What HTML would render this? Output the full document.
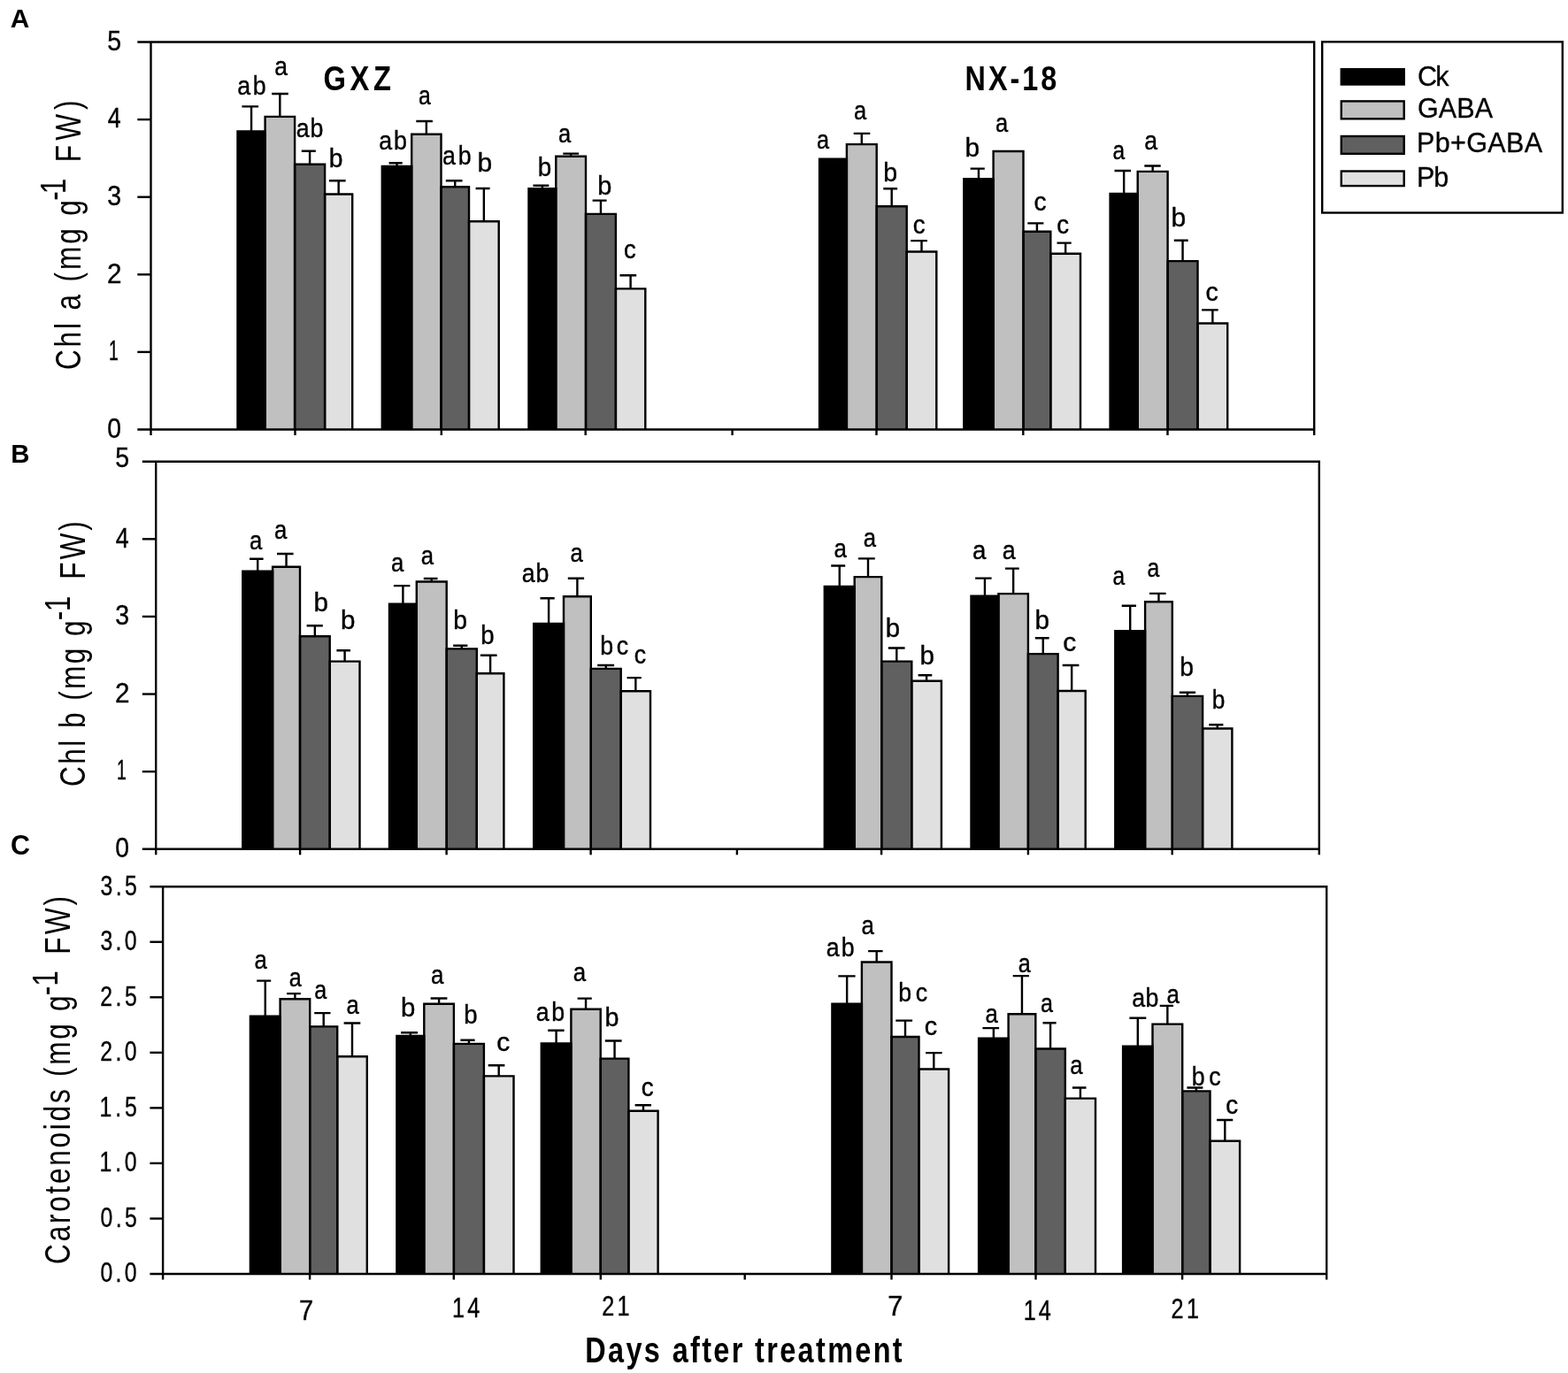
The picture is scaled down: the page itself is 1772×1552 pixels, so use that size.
<!DOCTYPE html>
<html><head><meta charset="utf-8"><title>Chlorophyll and carotenoid content</title>
<style>
html,body{margin:0;padding:0;background:#fff;overflow:hidden;}
svg{display:block;}
text{font-family:"Liberation Sans",Arial,sans-serif;fill:#000;font-kerning:none;}
.s{stroke:#000;stroke-width:2.40;stroke-linecap:butt;}
path{fill:none;}
</style></head><body>
<svg width="1772" height="1552" viewBox="0 0 1772 1552">
<rect width="1772" height="1552" fill="#fff"/>
<rect x="268.50" y="148.50" width="31.10" height="337.00" fill="#000000"/>
<rect x="299.60" y="131.90" width="33.50" height="353.60" fill="#c0c0c0"/>
<rect x="333.10" y="185.70" width="34.00" height="299.80" fill="#606060"/>
<rect x="367.10" y="219.50" width="31.10" height="266.00" fill="#e0e0e0"/>
<path d="M268.50 485.50V148.50H299.60V485.50" class="s"/>
<path d="M284.05 148.50V120.40M273.40 120.40H292.10" class="s"/>
<path d="M299.60 485.50V131.90H333.10V485.50" class="s"/>
<path d="M316.35 131.90V106.00M307.20 106.00H325.80" class="s"/>
<path d="M333.10 485.50V185.70H367.10V485.50" class="s"/>
<path d="M350.10 185.70V170.70M340.80 170.70H356.80" class="s"/>
<path d="M367.10 485.50V219.50H398.20V485.50" class="s"/>
<path d="M382.65 219.50V204.30M371.90 204.30H390.60" class="s"/>
<rect x="431.80" y="188.00" width="33.40" height="297.50" fill="#000000"/>
<rect x="465.20" y="151.80" width="33.30" height="333.70" fill="#c0c0c0"/>
<rect x="498.50" y="211.20" width="31.50" height="274.30" fill="#606060"/>
<rect x="530.00" y="250.20" width="33.70" height="235.30" fill="#e0e0e0"/>
<path d="M431.80 485.50V188.00H465.20V485.50" class="s"/>
<path d="M448.50 188.00V184.20M439.60 184.20H454.70" class="s"/>
<path d="M465.20 485.50V151.80H498.50V485.50" class="s"/>
<path d="M481.85 151.80V137.00M470.30 137.00H488.90" class="s"/>
<path d="M498.50 485.50V211.20H530.00V485.50" class="s"/>
<path d="M514.25 211.20V204.30M503.80 204.30H522.50" class="s"/>
<path d="M530.00 485.50V250.20H563.70V485.50" class="s"/>
<path d="M546.85 250.20V213.00M537.60 213.00H553.60" class="s"/>
<rect x="597.50" y="213.30" width="30.80" height="272.20" fill="#000000"/>
<rect x="628.30" y="176.80" width="33.70" height="308.70" fill="#c0c0c0"/>
<rect x="662.00" y="241.90" width="33.90" height="243.60" fill="#606060"/>
<rect x="695.90" y="326.40" width="33.40" height="159.10" fill="#e0e0e0"/>
<path d="M597.50 485.50V213.30H628.30V485.50" class="s"/>
<path d="M612.90 213.30V209.80M602.50 209.80H620.30" class="s"/>
<path d="M628.30 485.50V176.80H662.00V485.50" class="s"/>
<path d="M645.15 176.80V173.60M636.30 173.60H654.10" class="s"/>
<path d="M662.00 485.50V241.90H695.90V485.50" class="s"/>
<path d="M678.95 241.90V226.60M669.60 226.60H685.60" class="s"/>
<path d="M695.90 485.50V326.40H729.30V485.50" class="s"/>
<path d="M712.60 326.40V311.30M700.50 311.30H719.20" class="s"/>
<rect x="926.10" y="179.70" width="30.80" height="305.80" fill="#000000"/>
<rect x="956.90" y="163.10" width="33.80" height="322.40" fill="#c0c0c0"/>
<rect x="990.70" y="233.30" width="34.00" height="252.20" fill="#606060"/>
<rect x="1024.70" y="284.50" width="33.60" height="201.00" fill="#e0e0e0"/>
<path d="M926.10 485.50V179.70H956.90V485.50" class="s"/>
<path d="M956.90 485.50V163.10H990.70V485.50" class="s"/>
<path d="M973.80 163.10V150.90M964.70 150.90H983.30" class="s"/>
<path d="M990.70 485.50V233.30H1024.70V485.50" class="s"/>
<path d="M1007.70 233.30V213.30M998.30 213.30H1014.10" class="s"/>
<path d="M1024.70 485.50V284.50H1058.30V485.50" class="s"/>
<path d="M1041.50 284.50V272.10M1029.20 272.10H1047.90" class="s"/>
<rect x="1089.30" y="202.30" width="33.30" height="283.20" fill="#000000"/>
<rect x="1122.60" y="171.00" width="33.90" height="314.50" fill="#c0c0c0"/>
<rect x="1156.50" y="261.70" width="30.80" height="223.80" fill="#606060"/>
<rect x="1187.30" y="286.80" width="33.70" height="198.70" fill="#e0e0e0"/>
<path d="M1089.30 485.50V202.30H1122.60V485.50" class="s"/>
<path d="M1105.95 202.30V190.60M1096.60 190.60H1112.80" class="s"/>
<path d="M1122.60 485.50V171.00H1156.50V485.50" class="s"/>
<path d="M1156.50 485.50V261.70H1187.30V485.50" class="s"/>
<path d="M1171.90 261.70V252.40M1161.30 252.40H1179.40" class="s"/>
<path d="M1187.30 485.50V286.80H1221.00V485.50" class="s"/>
<path d="M1204.15 286.80V274.60M1194.50 274.60H1210.70" class="s"/>
<rect x="1254.60" y="218.90" width="31.10" height="266.60" fill="#000000"/>
<rect x="1285.70" y="193.90" width="33.90" height="291.60" fill="#c0c0c0"/>
<rect x="1319.60" y="295.10" width="33.90" height="190.40" fill="#606060"/>
<rect x="1353.50" y="365.50" width="33.70" height="120.00" fill="#e0e0e0"/>
<path d="M1254.60 485.50V218.90H1285.70V485.50" class="s"/>
<path d="M1270.15 218.90V193.00M1259.50 193.00H1278.00" class="s"/>
<path d="M1285.70 485.50V193.90H1319.60V485.50" class="s"/>
<path d="M1302.65 193.90V187.50M1293.30 187.50H1311.70" class="s"/>
<path d="M1319.60 485.50V295.10H1353.50V485.50" class="s"/>
<path d="M1336.55 295.10V271.80M1326.80 271.80H1342.70" class="s"/>
<path d="M1353.50 485.50V365.50H1387.20V485.50" class="s"/>
<path d="M1370.35 365.50V350.40M1358.10 350.40H1376.70" class="s"/>
<path d="M155.30 47.50H1485.20V492.00" class="s"/>
<path d="M170.50 47.50V492.00" class="s"/>
<path d="M155.30 485.50H1485.20" class="s"/>
<path d="M155.30 135.10H170.50" class="s"/>
<path d="M155.30 222.70H170.50" class="s"/>
<path d="M155.30 310.30H170.50" class="s"/>
<path d="M155.30 397.90H170.50" class="s"/>
<path d="M333.50 485.50V492.00" class="s"/>
<path d="M498.80 485.50V492.00" class="s"/>
<path d="M661.70 485.50V492.00" class="s"/>
<path d="M827.60 485.50V492.00" class="s"/>
<path d="M990.50 485.50V492.00" class="s"/>
<path d="M1156.30 485.50V492.00" class="s"/>
<path d="M1319.50 485.50V492.00" class="s"/>
<rect x="274.30" y="645.80" width="33.80" height="314.00" fill="#000000"/>
<rect x="308.10" y="640.70" width="30.90" height="319.10" fill="#c0c0c0"/>
<rect x="339.00" y="719.30" width="33.70" height="240.50" fill="#606060"/>
<rect x="372.70" y="747.60" width="33.80" height="212.20" fill="#e0e0e0"/>
<path d="M274.30 959.80V645.80H308.10V959.80" class="s"/>
<path d="M291.20 645.80V631.80M282.00 631.80H297.60" class="s"/>
<path d="M308.10 959.80V640.70H339.00V959.80" class="s"/>
<path d="M323.55 640.70V626.00M313.00 626.00H331.60" class="s"/>
<path d="M339.00 959.80V719.30H372.70V959.80" class="s"/>
<path d="M355.85 719.30V707.20M346.60 707.20H364.80" class="s"/>
<path d="M372.70 959.80V747.60H406.50V959.80" class="s"/>
<path d="M389.60 747.60V735.20M380.40 735.20H396.00" class="s"/>
<rect x="440.00" y="682.60" width="30.80" height="277.20" fill="#000000"/>
<rect x="470.80" y="657.50" width="33.90" height="302.30" fill="#c0c0c0"/>
<rect x="504.70" y="733.40" width="34.10" height="226.40" fill="#606060"/>
<rect x="538.80" y="761.20" width="30.60" height="198.60" fill="#e0e0e0"/>
<path d="M440.00 959.80V682.60H470.80V959.80" class="s"/>
<path d="M455.40 682.60V662.10M444.90 662.10H463.40" class="s"/>
<path d="M470.80 959.80V657.50H504.70V959.80" class="s"/>
<path d="M487.75 657.50V654.00M478.80 654.00H494.50" class="s"/>
<path d="M504.70 959.80V733.40H538.80V959.80" class="s"/>
<path d="M521.75 733.40V729.80M512.20 729.80H528.40" class="s"/>
<path d="M538.80 959.80V761.20H569.40V959.80" class="s"/>
<path d="M554.10 761.20V740.70M542.90 740.70H561.60" class="s"/>
<rect x="603.20" y="705.00" width="33.80" height="254.80" fill="#000000"/>
<rect x="637.00" y="674.30" width="30.80" height="285.50" fill="#c0c0c0"/>
<rect x="667.80" y="755.90" width="33.90" height="203.90" fill="#606060"/>
<rect x="701.70" y="781.20" width="33.30" height="178.60" fill="#e0e0e0"/>
<path d="M603.20 959.80V705.00H637.00V959.80" class="s"/>
<path d="M620.10 705.00V676.30M610.50 676.30H626.70" class="s"/>
<path d="M637.00 959.80V674.30H667.80V959.80" class="s"/>
<path d="M652.40 674.30V653.70M641.80 653.70H660.10" class="s"/>
<path d="M667.80 959.80V755.90H701.70V959.80" class="s"/>
<path d="M684.75 755.90V752.00M675.20 752.00H694.10" class="s"/>
<path d="M701.70 959.80V781.20H735.00V959.80" class="s"/>
<path d="M718.35 781.20V766.10M708.60 766.10H724.80" class="s"/>
<rect x="931.80" y="662.90" width="33.90" height="296.90" fill="#000000"/>
<rect x="965.70" y="652.10" width="30.60" height="307.70" fill="#c0c0c0"/>
<rect x="996.30" y="747.60" width="34.00" height="212.20" fill="#606060"/>
<rect x="1030.30" y="769.80" width="33.60" height="190.00" fill="#e0e0e0"/>
<path d="M931.80 959.80V662.90H965.70V959.80" class="s"/>
<path d="M948.75 662.90V639.50M939.20 639.50H955.20" class="s"/>
<path d="M965.70 959.80V652.10H996.30V959.80" class="s"/>
<path d="M981.00 652.10V631.40M969.90 631.40H988.80" class="s"/>
<path d="M996.30 959.80V747.60H1030.30V959.80" class="s"/>
<path d="M1013.30 747.60V732.50M1003.80 732.50H1022.60" class="s"/>
<path d="M1030.30 959.80V769.80H1063.90V959.80" class="s"/>
<path d="M1047.10 769.80V763.20M1037.60 763.20H1053.30" class="s"/>
<rect x="1097.50" y="673.80" width="30.90" height="286.00" fill="#000000"/>
<rect x="1128.40" y="671.10" width="33.50" height="288.70" fill="#c0c0c0"/>
<rect x="1161.90" y="739.10" width="33.70" height="220.70" fill="#606060"/>
<rect x="1195.60" y="781.00" width="31.10" height="178.80" fill="#e0e0e0"/>
<path d="M1097.50 959.80V673.80H1128.40V959.80" class="s"/>
<path d="M1112.95 673.80V653.60M1102.10 653.60H1120.60" class="s"/>
<path d="M1128.40 959.80V671.10H1161.90V959.80" class="s"/>
<path d="M1145.15 671.10V642.60M1136.00 642.60H1151.70" class="s"/>
<path d="M1161.90 959.80V739.10H1195.60V959.80" class="s"/>
<path d="M1178.75 739.10V721.20M1169.80 721.20H1185.60" class="s"/>
<path d="M1195.60 959.80V781.00H1226.70V959.80" class="s"/>
<path d="M1211.15 781.00V752.00M1200.70 752.00H1219.40" class="s"/>
<rect x="1260.30" y="713.30" width="33.80" height="246.50" fill="#000000"/>
<rect x="1294.10" y="680.30" width="30.70" height="279.50" fill="#c0c0c0"/>
<rect x="1324.80" y="786.90" width="34.30" height="172.90" fill="#606060"/>
<rect x="1359.10" y="823.50" width="33.30" height="136.30" fill="#e0e0e0"/>
<path d="M1260.30 959.80V713.30H1294.10V959.80" class="s"/>
<path d="M1277.20 713.30V684.80M1267.70 684.80H1284.00" class="s"/>
<path d="M1294.10 959.80V680.30H1324.80V959.80" class="s"/>
<path d="M1309.45 680.30V670.90M1299.00 670.90H1317.60" class="s"/>
<path d="M1324.80 959.80V786.90H1359.10V959.80" class="s"/>
<path d="M1341.95 786.90V782.80M1332.90 782.80H1351.10" class="s"/>
<path d="M1359.10 959.80V823.50H1392.40V959.80" class="s"/>
<path d="M1375.75 823.50V819.30M1366.30 819.30H1382.40" class="s"/>
<path d="M160.80 521.70H1490.80V966.30" class="s"/>
<path d="M176.20 521.70V966.30" class="s"/>
<path d="M160.80 959.80H1490.80" class="s"/>
<path d="M160.80 609.32H176.20" class="s"/>
<path d="M160.80 696.94H176.20" class="s"/>
<path d="M160.80 784.56H176.20" class="s"/>
<path d="M160.80 872.18H176.20" class="s"/>
<path d="M339.10 959.80V966.30" class="s"/>
<path d="M504.60 959.80V966.30" class="s"/>
<path d="M667.60 959.80V966.30" class="s"/>
<path d="M832.90 959.80V966.30" class="s"/>
<path d="M996.10 959.80V966.30" class="s"/>
<path d="M1161.90 959.80V966.30" class="s"/>
<path d="M1324.70 959.80V966.30" class="s"/>
<rect x="282.90" y="1148.60" width="33.70" height="291.40" fill="#000000"/>
<rect x="316.60" y="1129.30" width="33.60" height="310.70" fill="#c0c0c0"/>
<rect x="350.20" y="1160.40" width="31.00" height="279.60" fill="#606060"/>
<rect x="381.20" y="1194.20" width="33.60" height="245.80" fill="#e0e0e0"/>
<path d="M282.90 1440.00V1148.60H316.60V1440.00" class="s"/>
<path d="M299.75 1148.60V1108.60M290.20 1108.60H306.20" class="s"/>
<path d="M316.60 1440.00V1129.30H350.20V1440.00" class="s"/>
<path d="M333.40 1129.30V1123.10M324.10 1123.10H339.80" class="s"/>
<path d="M350.20 1440.00V1160.40H381.20V1440.00" class="s"/>
<path d="M365.70 1160.40V1145.10M355.20 1145.10H373.50" class="s"/>
<path d="M381.20 1440.00V1194.20H414.80V1440.00" class="s"/>
<path d="M398.00 1194.20V1156.50M388.60 1156.50H407.30" class="s"/>
<rect x="448.40" y="1170.90" width="30.90" height="269.10" fill="#000000"/>
<rect x="479.30" y="1134.70" width="33.60" height="305.30" fill="#c0c0c0"/>
<rect x="512.90" y="1179.90" width="34.00" height="260.10" fill="#606060"/>
<rect x="546.90" y="1216.40" width="33.60" height="223.60" fill="#e0e0e0"/>
<path d="M448.40 1440.00V1170.90H479.30V1440.00" class="s"/>
<path d="M463.85 1170.90V1167.30M453.10 1167.30H472.00" class="s"/>
<path d="M479.30 1440.00V1134.70H512.90V1440.00" class="s"/>
<path d="M496.10 1134.70V1128.50M486.60 1128.50H505.40" class="s"/>
<path d="M512.90 1440.00V1179.90H546.90V1440.00" class="s"/>
<path d="M529.90 1179.90V1175.80M520.40 1175.80H536.60" class="s"/>
<path d="M546.90 1440.00V1216.40H580.50V1440.00" class="s"/>
<path d="M563.70 1216.40V1204.30M551.70 1204.30H570.40" class="s"/>
<rect x="611.80" y="1179.50" width="33.60" height="260.50" fill="#000000"/>
<rect x="645.40" y="1140.70" width="33.30" height="299.30" fill="#c0c0c0"/>
<rect x="678.70" y="1196.60" width="31.70" height="243.40" fill="#606060"/>
<rect x="710.40" y="1255.70" width="33.20" height="184.30" fill="#e0e0e0"/>
<path d="M611.80 1440.00V1179.50H645.40V1440.00" class="s"/>
<path d="M628.60 1179.50V1164.70M619.20 1164.70H637.60" class="s"/>
<path d="M645.40 1440.00V1140.70H678.70V1440.00" class="s"/>
<path d="M662.05 1140.70V1128.60M652.60 1128.60H668.80" class="s"/>
<path d="M678.70 1440.00V1196.60H710.40V1440.00" class="s"/>
<path d="M694.55 1196.60V1176.50M683.80 1176.50H702.60" class="s"/>
<path d="M710.40 1440.00V1255.70H743.60V1440.00" class="s"/>
<path d="M727.00 1255.70V1249.30M717.60 1249.30H736.00" class="s"/>
<rect x="940.40" y="1134.60" width="33.50" height="305.40" fill="#000000"/>
<rect x="973.90" y="1087.50" width="33.60" height="352.50" fill="#c0c0c0"/>
<rect x="1007.50" y="1172.00" width="31.00" height="268.00" fill="#606060"/>
<rect x="1038.50" y="1208.50" width="33.60" height="231.50" fill="#e0e0e0"/>
<path d="M940.40 1440.00V1134.60H973.90V1440.00" class="s"/>
<path d="M957.15 1134.60V1103.40M947.30 1103.40H966.60" class="s"/>
<path d="M973.90 1440.00V1087.50H1007.50V1440.00" class="s"/>
<path d="M990.70 1087.50V1075.10M981.10 1075.10H997.60" class="s"/>
<path d="M1007.50 1440.00V1172.00H1038.50V1440.00" class="s"/>
<path d="M1023.00 1172.00V1153.60M1012.30 1153.60H1031.10" class="s"/>
<path d="M1038.50 1440.00V1208.50H1072.10V1440.00" class="s"/>
<path d="M1055.30 1208.50V1190.10M1046.10 1190.10H1064.60" class="s"/>
<rect x="1106.10" y="1173.80" width="33.50" height="266.20" fill="#000000"/>
<rect x="1139.60" y="1146.20" width="30.70" height="293.80" fill="#c0c0c0"/>
<rect x="1170.30" y="1185.50" width="33.50" height="254.50" fill="#606060"/>
<rect x="1203.80" y="1241.60" width="34.20" height="198.40" fill="#e0e0e0"/>
<path d="M1106.10 1440.00V1173.80H1139.60V1440.00" class="s"/>
<path d="M1122.85 1173.80V1162.10M1110.40 1162.10H1129.10" class="s"/>
<path d="M1139.60 1440.00V1146.20H1170.30V1440.00" class="s"/>
<path d="M1154.95 1146.20V1103.10M1144.70 1103.10H1162.90" class="s"/>
<path d="M1170.30 1440.00V1185.50H1203.80V1440.00" class="s"/>
<path d="M1187.05 1185.50V1156.30M1178.50 1156.30H1193.60" class="s"/>
<path d="M1203.80 1440.00V1241.60H1238.00V1440.00" class="s"/>
<path d="M1220.90 1241.60V1229.50M1211.90 1229.50H1227.50" class="s"/>
<rect x="1269.10" y="1182.70" width="33.40" height="257.30" fill="#000000"/>
<rect x="1302.50" y="1157.60" width="33.70" height="282.40" fill="#c0c0c0"/>
<rect x="1336.20" y="1233.40" width="31.30" height="206.60" fill="#606060"/>
<rect x="1367.50" y="1289.80" width="33.60" height="150.20" fill="#e0e0e0"/>
<path d="M1269.10 1440.00V1182.70H1302.50V1440.00" class="s"/>
<path d="M1285.80 1182.70V1150.80M1276.40 1150.80H1295.30" class="s"/>
<path d="M1302.50 1440.00V1157.60H1336.20V1440.00" class="s"/>
<path d="M1319.35 1157.60V1136.90M1310.70 1136.90H1326.00" class="s"/>
<path d="M1336.20 1440.00V1233.40H1367.50V1440.00" class="s"/>
<path d="M1351.85 1233.40V1229.50M1341.40 1229.50H1359.40" class="s"/>
<path d="M1367.50 1440.00V1289.80H1401.10V1440.00" class="s"/>
<path d="M1384.30 1289.80V1266.00M1375.00 1266.00H1393.30" class="s"/>
<path d="M169.40 1002.20H1499.20V1446.50" class="s"/>
<path d="M184.10 1002.20V1446.50" class="s"/>
<path d="M169.40 1440.00H1499.20" class="s"/>
<path d="M169.40 1064.74H184.10" class="s"/>
<path d="M169.40 1127.29H184.10" class="s"/>
<path d="M169.40 1189.83H184.10" class="s"/>
<path d="M169.40 1252.37H184.10" class="s"/>
<path d="M169.40 1314.91H184.10" class="s"/>
<path d="M169.40 1377.46H184.10" class="s"/>
<path d="M350.10 1440.00V1446.50" class="s"/>
<path d="M512.80 1440.00V1446.50" class="s"/>
<path d="M678.80 1440.00V1446.50" class="s"/>
<path d="M841.70 1440.00V1446.50" class="s"/>
<path d="M1007.50 1440.00V1446.50" class="s"/>
<path d="M1170.50 1440.00V1446.50" class="s"/>
<path d="M1336.10 1440.00V1446.50" class="s"/>
<rect x="1494.20" y="47.30" width="271.60" height="193.20" fill="none" class="s"/>
<rect x="1515.80" y="78.20" width="70.90" height="17.30" fill="#000000" class="s"/>
<rect x="1515.80" y="114.40" width="70.90" height="19.90" fill="#c0c0c0" class="s"/>
<rect x="1515.80" y="154.00" width="70.90" height="19.80" fill="#606060" class="s"/>
<rect x="1515.80" y="193.50" width="70.90" height="16.60" fill="#e0e0e0" class="s"/>
<text transform="translate(268.26 107.20) scale(0.9200 1)" font-size="29.10" style="letter-spacing:2.92px;stroke:#000;stroke-width:0.40;">ab</text>
<text transform="translate(310.28 84.50) scale(0.9098 1)" font-size="29.10" style="stroke:#000;stroke-width:0.40;">a</text>
<text transform="translate(334.76 155.30) scale(0.9200 1)" font-size="29.10" style="letter-spacing:0.96px;stroke:#000;stroke-width:0.40;">ab</text>
<text transform="translate(371.68 188.60) scale(0.9705 1)" font-size="29.10" style="stroke:#000;stroke-width:0.40;">b</text>
<text transform="translate(428.36 168.50) scale(0.9200 1)" font-size="29.10" style="letter-spacing:1.94px;stroke:#000;stroke-width:0.40;">ab</text>
<text transform="translate(473.05 117.70) scale(0.8496 1)" font-size="29.10" style="stroke:#000;stroke-width:0.40;">a</text>
<text transform="translate(500.06 185.60) scale(0.9200 1)" font-size="29.10" style="letter-spacing:-2.58px;stroke:#000;stroke-width:0.40;">a b</text>
<text transform="translate(539.57 193.80) scale(1.0316 1)" font-size="29.10" style="stroke:#000;stroke-width:0.40;">b</text>
<text transform="translate(607.71 199.20) scale(0.9552 1)" font-size="29.10" style="stroke:#000;stroke-width:0.40;">b</text>
<text transform="translate(631.02 160.50) scale(0.8764 1)" font-size="29.10" style="stroke:#000;stroke-width:0.40;">a</text>
<text transform="translate(675.34 220.00) scale(0.9934 1)" font-size="29.10" style="stroke:#000;stroke-width:0.40;">b</text>
<text transform="translate(705.04 291.90) scale(0.9405 1)" font-size="29.10" style="stroke:#000;stroke-width:0.40;">c</text>
<text transform="translate(923.02 168.30) scale(0.8697 1)" font-size="29.10" style="stroke:#000;stroke-width:0.40;">a</text>
<text transform="translate(964.92 134.80) scale(0.8764 1)" font-size="29.10" style="stroke:#000;stroke-width:0.40;">a</text>
<text transform="translate(998.27 205.00) scale(0.9781 1)" font-size="29.10" style="stroke:#000;stroke-width:0.40;">b</text>
<text transform="translate(1031.73 264.00) scale(0.9485 1)" font-size="29.10" style="stroke:#000;stroke-width:0.40;">c</text>
<text transform="translate(1090.38 177.00) scale(1.0240 1)" font-size="29.10" style="stroke:#000;stroke-width:0.40;">b</text>
<text transform="translate(1125.02 149.30) scale(0.8764 1)" font-size="29.10" style="stroke:#000;stroke-width:0.40;">a</text>
<text transform="translate(1168.41 237.90) scale(0.9644 1)" font-size="29.10" style="stroke:#000;stroke-width:0.40;">c</text>
<text transform="translate(1194.13 264.00) scale(0.9485 1)" font-size="29.10" style="stroke:#000;stroke-width:0.40;">c</text>
<text transform="translate(1257.46 180.00) scale(0.8429 1)" font-size="29.10" style="stroke:#000;stroke-width:0.40;">a</text>
<text transform="translate(1293.37 168.70) scale(0.9165 1)" font-size="29.10" style="stroke:#000;stroke-width:0.40;">a</text>
<text transform="translate(1323.47 255.70) scale(1.0316 1)" font-size="29.10" style="stroke:#000;stroke-width:0.40;">b</text>
<text transform="translate(1362.49 340.00) scale(0.9804 1)" font-size="29.10" style="stroke:#000;stroke-width:0.40;">c</text>
<text transform="translate(121.26 56.80) scale(0.9185 1)" font-size="31.00" style="stroke:#000;stroke-width:0.40;">5</text>
<text transform="translate(121.79 144.40) scale(0.8642 1)" font-size="31.00" style="stroke:#000;stroke-width:0.40;">4</text>
<text transform="translate(121.32 232.00) scale(0.9185 1)" font-size="31.00" style="stroke:#000;stroke-width:0.40;">3</text>
<text transform="translate(120.91 319.60) scale(0.9559 1)" font-size="31.00" style="stroke:#000;stroke-width:0.40;">2</text>
<text transform="translate(123.12 407.20) scale(0.6285 1)" font-size="31.00" style="stroke:#000;stroke-width:0.40;">1</text>
<text transform="translate(121.30 494.80) scale(0.9110 1)" font-size="31.00" style="stroke:#000;stroke-width:0.40;">0</text>
<text transform="translate(282.11 621.10) scale(0.8831 1)" font-size="29.10" style="stroke:#000;stroke-width:0.40;">a</text>
<text transform="translate(310.11 609.40) scale(0.8831 1)" font-size="29.10" style="stroke:#000;stroke-width:0.40;">a</text>
<text transform="translate(354.39 691.00) scale(1.0163 1)" font-size="29.10" style="stroke:#000;stroke-width:0.40;">b</text>
<text transform="translate(385.09 710.50) scale(1.0163 1)" font-size="29.10" style="stroke:#000;stroke-width:0.40;">b</text>
<text transform="translate(441.91 645.80) scale(0.8831 1)" font-size="29.10" style="stroke:#000;stroke-width:0.40;">a</text>
<text transform="translate(475.71 637.70) scale(0.8831 1)" font-size="29.10" style="stroke:#000;stroke-width:0.40;">a</text>
<text transform="translate(512.18 710.50) scale(0.9705 1)" font-size="29.10" style="stroke:#000;stroke-width:0.40;">b</text>
<text transform="translate(543.22 727.50) scale(0.9475 1)" font-size="29.10" style="stroke:#000;stroke-width:0.40;">b</text>
<text transform="translate(589.86 658.30) scale(0.9200 1)" font-size="29.10" style="letter-spacing:0.74px;stroke:#000;stroke-width:0.40;">ab</text>
<text transform="translate(644.61 635.10) scale(0.8831 1)" font-size="29.10" style="stroke:#000;stroke-width:0.40;">a</text>
<text transform="translate(678.27 739.50) scale(0.9200 1)" font-size="29.10" style="letter-spacing:3.97px;stroke:#000;stroke-width:0.40;">bc</text>
<text transform="translate(716.77 750.40) scale(0.9166 1)" font-size="29.10" style="stroke:#000;stroke-width:0.40;">c</text>
<text transform="translate(942.50 629.60) scale(0.8898 1)" font-size="29.10" style="stroke:#000;stroke-width:0.40;">a</text>
<text transform="translate(975.81 618.40) scale(0.8831 1)" font-size="29.10" style="stroke:#000;stroke-width:0.40;">a</text>
<text transform="translate(1000.81 719.90) scale(1.0087 1)" font-size="29.10" style="stroke:#000;stroke-width:0.40;">b</text>
<text transform="translate(1039.59 750.60) scale(1.0163 1)" font-size="29.10" style="stroke:#000;stroke-width:0.40;">b</text>
<text transform="translate(1099.03 632.30) scale(0.9500 1)" font-size="29.10" style="stroke:#000;stroke-width:0.40;">a</text>
<text transform="translate(1132.86 632.30) scale(0.9232 1)" font-size="29.10" style="stroke:#000;stroke-width:0.40;">a</text>
<text transform="translate(1169.59 710.50) scale(1.0163 1)" font-size="29.10" style="stroke:#000;stroke-width:0.40;">b</text>
<text transform="translate(1201.33 735.80) scale(1.0282 1)" font-size="29.10" style="stroke:#000;stroke-width:0.40;">c</text>
<text transform="translate(1257.46 660.50) scale(0.8429 1)" font-size="29.10" style="stroke:#000;stroke-width:0.40;">a</text>
<text transform="translate(1296.55 651.80) scale(0.8496 1)" font-size="29.10" style="stroke:#000;stroke-width:0.40;">a</text>
<text transform="translate(1333.18 764.00) scale(0.9705 1)" font-size="29.10" style="stroke:#000;stroke-width:0.40;">b</text>
<text transform="translate(1369.81 800.50) scale(0.9017 1)" font-size="29.10" style="stroke:#000;stroke-width:0.40;">b</text>
<text transform="translate(130.26 528.30) scale(0.9185 1)" font-size="31.00" style="stroke:#000;stroke-width:0.40;">5</text>
<text transform="translate(130.79 618.62) scale(0.8642 1)" font-size="31.00" style="stroke:#000;stroke-width:0.40;">4</text>
<text transform="translate(130.32 706.24) scale(0.9185 1)" font-size="31.00" style="stroke:#000;stroke-width:0.40;">3</text>
<text transform="translate(129.91 793.86) scale(0.9559 1)" font-size="31.00" style="stroke:#000;stroke-width:0.40;">2</text>
<text transform="translate(132.12 881.48) scale(0.6285 1)" font-size="31.00" style="stroke:#000;stroke-width:0.40;">1</text>
<text transform="translate(130.30 969.10) scale(0.9110 1)" font-size="31.00" style="stroke:#000;stroke-width:0.40;">0</text>
<text transform="translate(287.61 1095.10) scale(0.8831 1)" font-size="29.10" style="stroke:#000;stroke-width:0.40;">a</text>
<text transform="translate(326.73 1114.90) scale(0.8630 1)" font-size="29.10" style="stroke:#000;stroke-width:0.40;">a</text>
<text transform="translate(355.33 1129.40) scale(0.8630 1)" font-size="29.10" style="stroke:#000;stroke-width:0.40;">a</text>
<text transform="translate(391.41 1146.20) scale(0.8831 1)" font-size="29.10" style="stroke:#000;stroke-width:0.40;">a</text>
<text transform="translate(452.91 1148.70) scale(1.0087 1)" font-size="29.10" style="stroke:#000;stroke-width:0.40;">b</text>
<text transform="translate(487.10 1112.20) scale(0.8898 1)" font-size="29.10" style="stroke:#000;stroke-width:0.40;">a</text>
<text transform="translate(524.32 1157.00) scale(0.9475 1)" font-size="29.10" style="stroke:#000;stroke-width:0.40;">b</text>
<text transform="translate(561.33 1188.40) scale(1.0282 1)" font-size="29.10" style="stroke:#000;stroke-width:0.40;">c</text>
<text transform="translate(605.76 1154.30) scale(0.9200 1)" font-size="29.10" style="letter-spacing:2.70px;stroke:#000;stroke-width:0.40;">ab</text>
<text transform="translate(647.80 1109.10) scale(0.8898 1)" font-size="29.10" style="stroke:#000;stroke-width:0.40;">a</text>
<text transform="translate(683.55 1160.20) scale(0.9858 1)" font-size="29.10" style="stroke:#000;stroke-width:0.40;">b</text>
<text transform="translate(724.82 1238.80) scale(0.9564 1)" font-size="29.10" style="stroke:#000;stroke-width:0.40;">c</text>
<text transform="translate(933.86 1081.40) scale(0.9200 1)" font-size="29.10" style="letter-spacing:2.16px;stroke:#000;stroke-width:0.40;">ab</text>
<text transform="translate(973.60 1056.10) scale(0.8898 1)" font-size="29.10" style="stroke:#000;stroke-width:0.40;">a</text>
<text transform="translate(1015.37 1132.30) scale(0.9200 1)" font-size="29.10" style="letter-spacing:4.95px;stroke:#000;stroke-width:0.40;">bc</text>
<text transform="translate(1044.78 1170.20) scale(0.9883 1)" font-size="29.10" style="stroke:#000;stroke-width:0.40;">c</text>
<text transform="translate(1113.61 1156.30) scale(0.8831 1)" font-size="29.10" style="stroke:#000;stroke-width:0.40;">a</text>
<text transform="translate(1150.63 1098.60) scale(0.8630 1)" font-size="29.10" style="stroke:#000;stroke-width:0.40;">a</text>
<text transform="translate(1175.93 1143.70) scale(0.8630 1)" font-size="29.10" style="stroke:#000;stroke-width:0.40;">a</text>
<text transform="translate(1209.31 1213.60) scale(0.8831 1)" font-size="29.10" style="stroke:#000;stroke-width:0.40;">a</text>
<text transform="translate(1279.36 1138.10) scale(0.9200 1)" font-size="29.10" style="letter-spacing:0.20px;stroke:#000;stroke-width:0.40;">ab</text>
<text transform="translate(1318.50 1134.20) scale(0.8898 1)" font-size="29.10" style="stroke:#000;stroke-width:0.40;">a</text>
<text transform="translate(1346.77 1227.20) scale(0.9200 1)" font-size="29.10" style="letter-spacing:5.06px;stroke:#000;stroke-width:0.40;">bc</text>
<text transform="translate(1385.32 1258.80) scale(0.9564 1)" font-size="29.10" style="stroke:#000;stroke-width:0.40;">c</text>
<text transform="translate(113.46 1011.50) scale(0.8000 1)" font-size="31.00" style="letter-spacing:4.26px;stroke:#000;stroke-width:0.40;">3.5</text>
<text transform="translate(113.46 1074.04) scale(0.8000 1)" font-size="31.00" style="letter-spacing:4.21px;stroke:#000;stroke-width:0.40;">3.0</text>
<text transform="translate(113.15 1136.59) scale(0.8000 1)" font-size="31.00" style="letter-spacing:4.45px;stroke:#000;stroke-width:0.40;">2.5</text>
<text transform="translate(113.15 1199.13) scale(0.8000 1)" font-size="31.00" style="letter-spacing:4.40px;stroke:#000;stroke-width:0.40;">2.0</text>
<text transform="translate(112.51 1261.67) scale(0.8000 1)" font-size="31.00" style="letter-spacing:4.85px;stroke:#000;stroke-width:0.40;">1.5</text>
<text transform="translate(112.51 1324.21) scale(0.8000 1)" font-size="31.00" style="letter-spacing:4.80px;stroke:#000;stroke-width:0.40;">1.0</text>
<text transform="translate(113.43 1386.76) scale(0.8000 1)" font-size="31.00" style="letter-spacing:4.27px;stroke:#000;stroke-width:0.40;">0.5</text>
<text transform="translate(113.43 1449.30) scale(0.8000 1)" font-size="31.00" style="letter-spacing:4.23px;stroke:#000;stroke-width:0.40;">0.0</text>
<text transform="translate(338.11 1492.00) scale(0.9218 1)" font-size="31.50" style="stroke:#000;stroke-width:0.40;">7</text>
<text transform="translate(510.88 1489.20) scale(0.8000 1)" font-size="31.50" style="letter-spacing:4.16px;stroke:#000;stroke-width:0.40;">14</text>
<text transform="translate(680.23 1486.60) scale(0.8000 1)" font-size="31.50" style="letter-spacing:4.08px;stroke:#000;stroke-width:0.40;">21</text>
<text transform="translate(1003.22 1487.00) scale(0.9777 1)" font-size="31.50" style="stroke:#000;stroke-width:0.40;">7</text>
<text transform="translate(1156.78 1492.00) scale(0.8000 1)" font-size="31.50" style="letter-spacing:3.66px;stroke:#000;stroke-width:0.40;">14</text>
<text transform="translate(1323.43 1489.50) scale(0.8000 1)" font-size="31.50" style="letter-spacing:4.46px;stroke:#000;stroke-width:0.40;">21</text>
<text transform="translate(11.76 31.25) scale(1.0105 1)" font-size="29.50" font-weight="bold">A</text>
<text transform="translate(12.24 522.90) scale(0.9784 1)" font-size="30.00" font-weight="bold">B</text>
<text transform="translate(12.05 965.50) scale(0.9979 1)" font-size="30.50" font-weight="bold">C</text>
<text transform="translate(365.46 101.50) scale(0.8500 1)" font-size="38.50" font-weight="bold" style="letter-spacing:5.42px;">GXZ</text>
<text transform="translate(1090.54 101.60) scale(0.8500 1)" font-size="38.00" font-weight="bold" style="letter-spacing:3.56px;">NX-18</text>
<text transform="translate(661.33 1539.70) scale(0.8000 1)" font-size="40.50" font-weight="bold" style="letter-spacing:2.97px;">Days after treatment</text>
<text transform="translate(1601.95 96.70) scale(1.0000 1)" font-size="30.50" style="letter-spacing:-1.77px;stroke:#000;stroke-width:0.30;">Ck</text>
<text transform="translate(1601.97 133.00) scale(1.0000 1)" font-size="30.50" style="letter-spacing:0.11px;stroke:#000;stroke-width:0.30;">GABA</text>
<text transform="translate(1601.00 171.70) scale(1.0000 1)" font-size="30.50" style="letter-spacing:0.37px;stroke:#000;stroke-width:0.30;">Pb+GABA</text>
<text transform="translate(1601.00 211.30) scale(1.0000 1)" font-size="30.50" style="letter-spacing:-1.12px;stroke:#000;stroke-width:0.30;">Pb</text>
<text transform="translate(90.70 416.50) rotate(-90) scale(0.7800 1)" x="-2.06" font-size="40.50" style="letter-spacing:3.68px">Chl a (mg g</text>
<text transform="translate(73.60 225.30) rotate(-90) scale(0.7800 1)" x="-1.80" font-size="40.50" style="letter-spacing:-3.90px">-1</text>
<text transform="translate(90.70 180.60) rotate(-90) scale(0.7800 1)" x="-3.32" font-size="40.50" style="letter-spacing:6.55px">FW)</text>
<text transform="translate(96.00 887.30) rotate(-90) scale(0.7800 1)" x="-2.06" font-size="40.50" style="letter-spacing:3.12px">Chl b (mg g</text>
<text transform="translate(79.40 699.80) rotate(-90) scale(0.7800 1)" x="-1.80" font-size="40.50" style="letter-spacing:-0.82px">-1</text>
<text transform="translate(96.00 652.10) rotate(-90) scale(0.7800 1)" x="-3.32" font-size="40.50" style="letter-spacing:3.67px">FW)</text>
<text transform="translate(78.90 1427.30) rotate(-90) scale(0.7800 1)" x="-2.06" font-size="40.50" style="letter-spacing:3.51px">Carotenoids (mg g</text>
<text transform="translate(65.00 1123.80) rotate(-90) scale(0.7800 1)" x="-1.80" font-size="40.50" style="letter-spacing:-0.18px">-1</text>
<text transform="translate(78.90 1076.20) rotate(-90) scale(0.7800 1)" x="-3.32" font-size="40.50" style="letter-spacing:4.05px">FW)</text>
</svg></body></html>
